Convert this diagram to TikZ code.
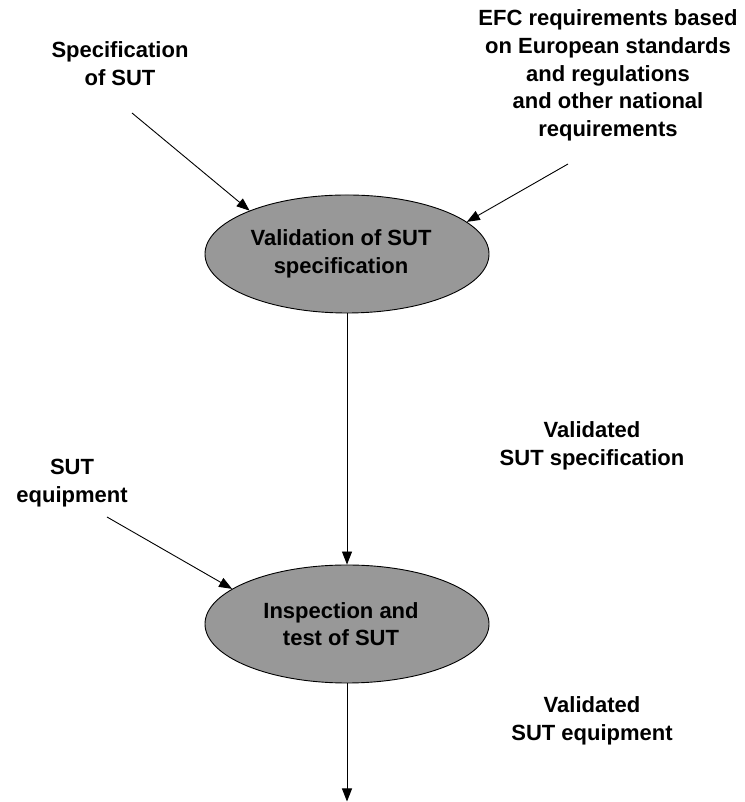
\documentclass[tikz,border=0pt]{standalone}
\usepackage{fontspec}
\setmainfont{Liberation Sans}
\usetikzlibrary{arrows.meta,shapes.geometric}
\definecolor{procfill}{RGB}{152,152,152}
\begin{document}
\begin{tikzpicture}[x=1pt,y=1pt,
  every node/.style={font=\fontsize{22}{27.6}\selectfont\bfseries, align=center, inner sep=0pt},
  process/.style={ellipse, draw=black, line width=0.9pt, fill=procfill,
    minimum width=284pt, minimum height=118pt},
  proctext/.style={xshift=-6pt},
  iotext/.style={anchor=north},
  flow/.style={draw=black, line width=0.9pt, -{Triangle[length=13pt,width=10pt]}}]
  \useasboundingbox (0,0) rectangle (744,802);

  % processes
  \node[process, label={[proctext]center:{Validation of SUT\\specification}}] (val)  at (347,548) {};
  \node[process, label={[proctext]center:{Inspection and\\test of SUT}}] (insp) at (347,178) {};

  % inputs and outputs
  \node[iotext] (spec)  at (120,760.3) {Specification\\of SUT};
  \node[iotext] (efc)   at (608,792.2) {EFC requirements based\\on European standards\\and regulations\\and other national\\requirements};
  \node[iotext] (equip) at (72,343)    {SUT\\equipment};
  \node[iotext] (vspec) at (592,380.4) {Validated\\SUT specification};
  \node[iotext] (vequ)  at (592,105.4) {Validated\\SUT equipment};

  % free ends of the connectors
  \coordinate (specEnd)  at (132,689);
  \coordinate (efcEnd)   at (568,638);
  \coordinate (equipEnd) at (107,285);
  \coordinate (outEnd)   at (347,0.5);

  % connectors
  \draw[flow] (specEnd)  -- (val.156);
  \draw[flow] (efcEnd)   -- (val.15);
  \draw[flow] (val.south) -- (insp.north);
  \draw[flow] (equipEnd) -- (insp.163);
  \draw[flow] (insp.south) -- (outEnd);
\end{tikzpicture}
\end{document}
